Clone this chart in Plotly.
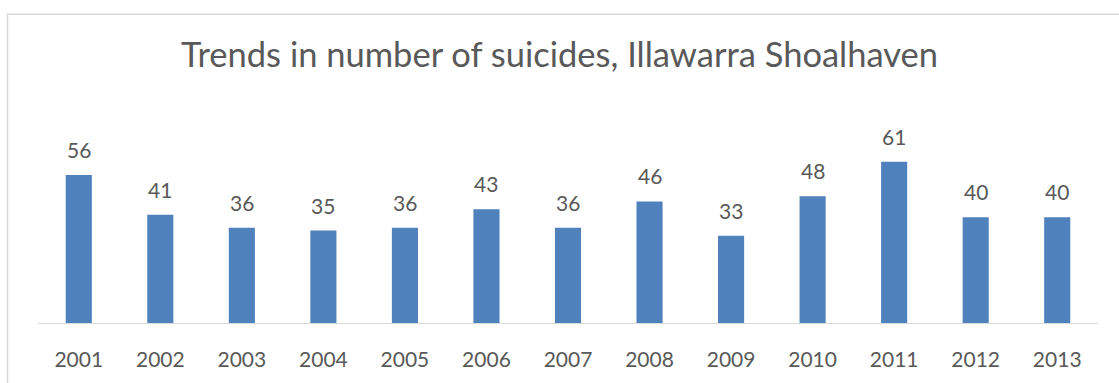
import plotly.graph_objects as go

years = ["2001", "2002", "2003", "2004", "2005", "2006", "2007",
         "2008", "2009", "2010", "2011", "2012", "2013"]
suicides = [56, 41, 36, 35, 36, 43, 36, 46, 33, 48, 61, 40, 40]

title_text = "Trends in number of suicides, Illawarra Shoalhaven"
text_color = "#595959"
bar_color = "#4F81BD"
font_family = "Lato, Open Sans, sans-serif"

fig = go.Figure()
fig.add_trace(go.Bar(
    x=years, y=suicides,
    marker=dict(color=bar_color, line=dict(width=0)),
    width=0.32,
    hoverinfo="x+y",
))

annotations = []
for i, v in enumerate(suicides):
    annotations.append(dict(
        x=i, y=v, xref="x", yref="y", text=str(v), showarrow=False,
        yanchor="bottom", yshift=11,
        font=dict(family=font_family, size=21, color=text_color),
    ))

fig.update_layout(
    width=1119, height=383,
    margin=dict(l=38, r=21, t=138, b=55),
    paper_bgcolor="white", plot_bgcolor="white",
    showlegend=False,
    title=dict(text=title_text, x=0.5, xanchor="center", y=1 - 55 / 383,
               yanchor="middle",
               font=dict(family=font_family, size=34.5, color=text_color)),
    xaxis=dict(
        type="category", showgrid=False, zeroline=False,
        showline=True, linecolor="#d9d9d9", linewidth=1,
        ticks="", ticklabelstandoff=18,
        tickfont=dict(family=font_family, size=21, color=text_color),
        range=[-0.5, len(years) - 0.5],
    ),
    yaxis=dict(range=[0, 70], showticklabels=False, showline=False,
               showgrid=False, zeroline=False, ticks=""),
    shapes=[dict(
        type="rect", xref="paper", yref="paper",
        x0=(7.5 - 38) / 1060, x1=(1130 - 38) / 1060,
        y0=-(400 - 328) / 190, y1=(328 - 11) / 190,
        line=dict(color="#d9d9d9", width=1.5), fillcolor="rgba(0,0,0,0)",
        layer="below",
    )],
    annotations=annotations,
)

fig.write_html("out.html")
